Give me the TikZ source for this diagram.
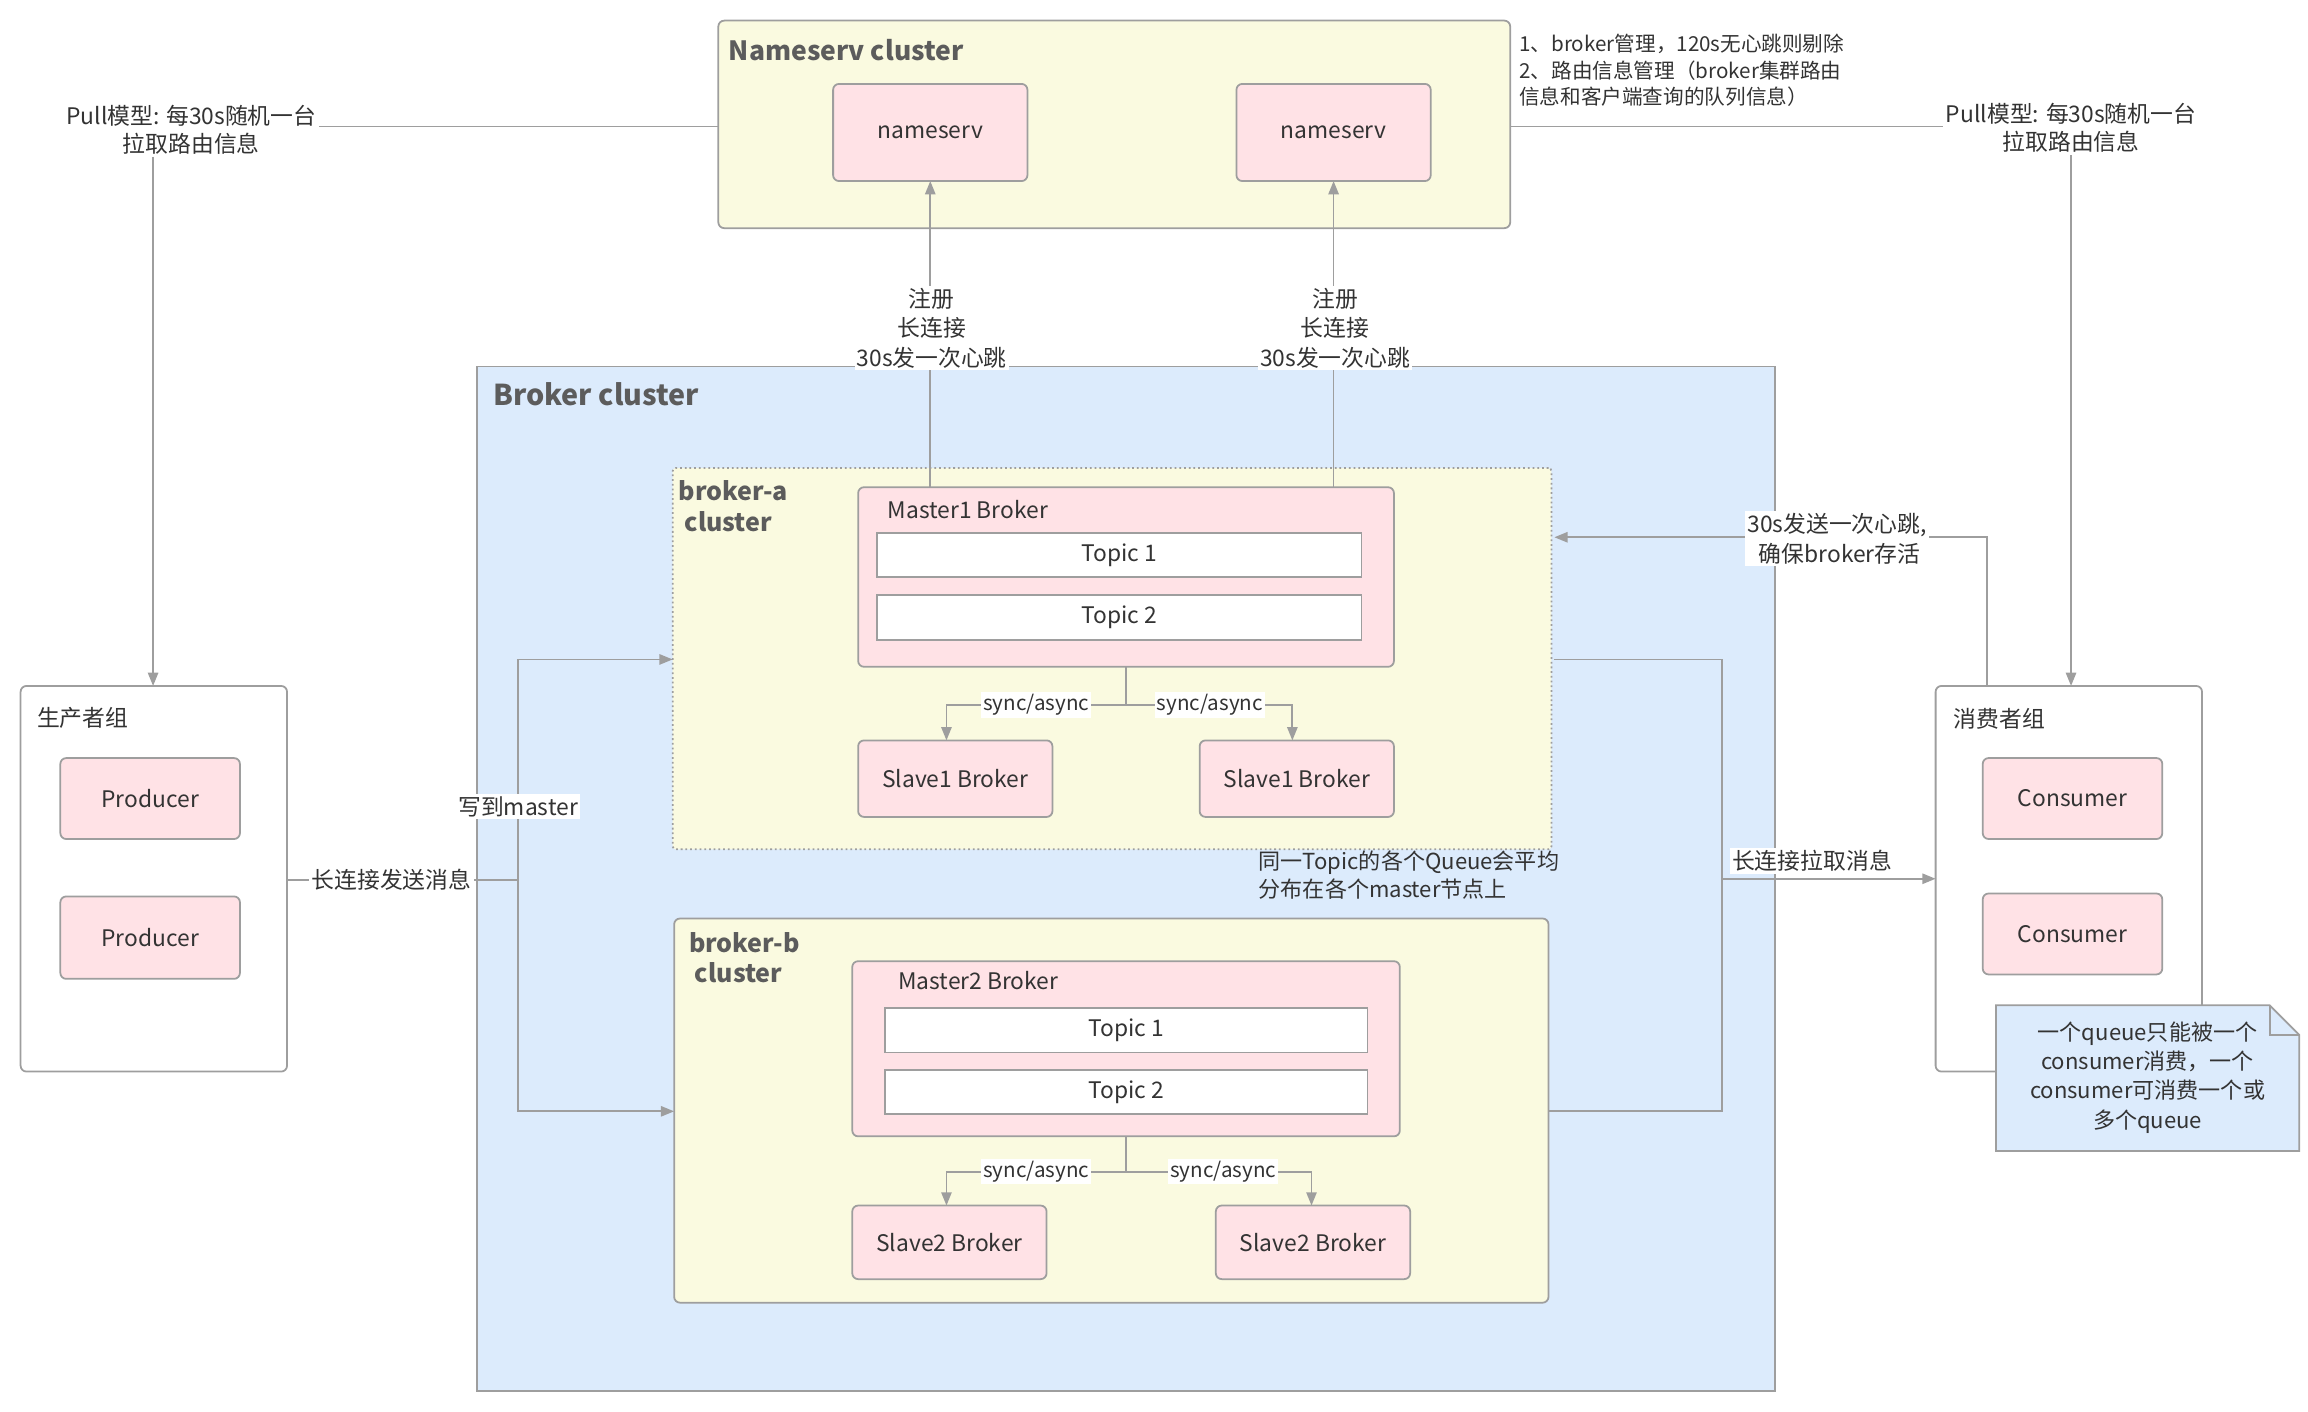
\documentclass[tikz,border=0pt]{standalone}
\usepackage{fontspec}
\setmainfont{Noto Sans CJK SC}
\usetikzlibrary{arrows.meta}
\definecolor{ln}{HTML}{9E9E9E}
\definecolor{yel}{HTML}{FAFAE0}
\definecolor{pnk}{HTML}{FFE2E6}
\definecolor{blu}{HTML}{DCEBFC}
\definecolor{txt}{HTML}{333333}
\newcommand\mybox[7]{\node[#1,minimum width={#4pt-#2pt},minimum height={#5pt-#3pt}] (#6) at ({(#2+#4)/2},{-(#3+#5)/2}) {#7};}
\begin{document}
\begin{tikzpicture}[x=1pt,y=1pt,
  every node/.style={text=txt,font=\fontsize{15.5pt}{18pt}\selectfont},
  base/.style={draw=ln,line width=1.2pt,inner sep=0pt,outer sep=0pt,rounded corners=4pt},
  clus/.style={base,fill=yel},
  pk/.style={base,fill=pnk},
  wt/.style={base,fill=white,rounded corners=0pt},
  grp/.style={base,fill=white},
  ttl/.style={anchor=west,inner sep=0pt,font=\bfseries\fontsize{19.5pt}{22pt}\selectfont,text=txt!80},
  lbl/.style={fill=white,inner sep=1.5pt,align=center},
  con/.style={draw=ln,line width=1.2pt},
  arr/.style={con,-{Triangle[width=7pt,length=9pt]}}]
\useasboundingbox (0,0) rectangle (1568,-959);
% clusters
\mybox{base,fill=blu,rounded corners=0pt}{324}{249}{1206}{945}{bc}{}
\node[ttl] (bct) at (335,-268) {Broker cluster};
\mybox{clus}{488}{14}{1026}{155}{nc}{}
\node[ttl,font=\bfseries\fontsize{18pt}{22pt}\selectfont] (nct) at (495,-34) {Nameserv cluster};
\mybox{pk}{566}{57}{698}{123}{ns1}{nameserv}
\mybox{pk}{840}{57}{972}{123}{ns2}{nameserv}
\node[anchor=north west,align=left,font=\fontsize{14pt}{18pt}\selectfont,inner sep=0pt] (note1) at (1032,-23) {1、broker管理，120s无心跳则剔除\\2、路由信息管理（broker集群路由\\信息和客户端查询的队列信息）};
% broker-a
\mybox{clus,dotted,rounded corners=2pt}{457}{318}{1054}{577}{ba}{}
\node[ttl,anchor=north west,align=left,font=\bfseries\fontsize{17pt}{21pt}\selectfont] (bat) at (461,-326) {broker-a\\\ cluster};
\mybox{pk}{583}{331}{947}{453}{m1}{}
\node[anchor=west,inner sep=0pt] (m1t) at (603,-346) {Master1 Broker};
\mybox{wt}{596}{362}{925}{392}{t11}{Topic 1}
\mybox{wt}{596}{404}{925}{435}{t12}{Topic 2}
\mybox{pk}{583}{503}{715}{555}{s11}{Slave1 Broker}
\mybox{pk}{815}{503}{947}{555}{s12}{Slave1 Broker}
% broker-b
\mybox{clus}{458}{624}{1052}{885}{bb}{}
\node[ttl,anchor=north west,align=left,font=\bfseries\fontsize{17pt}{21pt}\selectfont] (bbt) at (468,-633) {broker-b\\\ cluster};
\mybox{pk}{579}{653}{951}{772}{m2}{}
\node[anchor=west,inner sep=0pt] (m2t) at (610,-666) {Master2 Broker};
\mybox{wt}{601}{685}{929}{715}{t21}{Topic 1}
\mybox{wt}{601}{727}{929}{757}{t22}{Topic 2}
\mybox{pk}{579}{819}{711}{869}{s21}{Slave2 Broker}
\mybox{pk}{826}{819}{958}{869}{s22}{Slave2 Broker}
% groups
\mybox{grp}{14}{466}{195}{728}{pg}{}
\node[anchor=west,inner sep=0pt] (pgt) at (25,-488) {生产者组};
\mybox{pk}{41}{515}{163}{570}{p1}{Producer}
\mybox{pk}{41}{609}{163}{665}{p2}{Producer}
\mybox{grp}{1315}{466}{1496}{728}{cg}{}
\node[anchor=west,inner sep=0pt] (cgt) at (1327,-488) {消费者组};
\mybox{pk}{1347}{515}{1469}{570}{c1}{Consumer}
\mybox{pk}{1347}{607}{1469}{662}{c2}{Consumer}
% note
\path[fill=blu,draw=ln,line width=1.2pt] (1356,-683) -- (1542,-683) -- (1562,-703) -- (1562,-782) -- (1356,-782) -- cycle;
\draw[draw=ln,line width=1.2pt] (1542,-683) -- (1542,-703) -- (1562,-703);
\node[align=center,font=\fontsize{15pt}{20pt}\selectfont] (nt) at (1459,-732) {一个queue只能被一个\\consumer消费，一个\\consumer可消费一个或\\多个queue};
% sync
\coordinate (j1) at (765,-479);
\draw[con] (m1.south -| j1) -- (j1);
\draw[arr] (j1) -- (643,-479) -- (s11.north -| 643,0);
\draw[arr] (j1) -- (878,-479) -- (s12.north -| 878,0);
\node[lbl,font=\fontsize{14pt}{15pt}\selectfont] at (704,-479) {sync/async};
\node[lbl,font=\fontsize{14pt}{15pt}\selectfont] at (822,-479) {sync/async};
\coordinate (j2) at (765,-796);
\draw[con] (m2.south -| j2) -- (j2);
\draw[arr] (j2) -- (643,-796) -- (s21.north -| 643,0);
\draw[arr] (j2) -- (891,-796) -- (s22.north -| 891,0);
\node[lbl,font=\fontsize{14pt}{15pt}\selectfont] at (704,-796) {sync/async};
\node[lbl,font=\fontsize{14pt}{15pt}\selectfont] at (831,-796) {sync/async};
% register
\draw[arr] (m1.north -| ns1.south) -- (ns1.south);
\draw[arr] (m1.north -| ns2.south) -- (ns2.south);
\node[lbl,font=\fontsize{15.5pt}{20pt}\selectfont] at (633,-223) {注册\\长连接\\30s发一次心跳};
\node[lbl,font=\fontsize{15.5pt}{20pt}\selectfont] at (907,-223) {注册\\长连接\\30s发一次心跳};
% pull routing
\node[lbl,font=\fontsize{15.5pt}{19pt}\selectfont] (pl) at (130,-88) {Pull模型: 每30s随机一台\\拉取路由信息};
\node[lbl,font=\fontsize{15.5pt}{19pt}\selectfont] (pr) at (1407,-87) {Pull模型: 每30s随机一台\\拉取路由信息};
\draw[con] (nc.west |- 0,-86) -- (pl.east |- 0,-86);
\draw[con] (nc.east |- 0,-86) -- (pr.west |- 0,-86);
\draw[arr] (pl.south -| 104,0) -- (pg.north -| 104,0);
\draw[arr] (pr.south) -- (cg.north -| pr.south);
% producer send
\coordinate (pj) at (352,-598);
\draw[con] (pg.east |- pj) -- (pj);
\draw[arr] (pj) -- (352,-448) -- (ba.west |- 0,-448);
\draw[arr] (pj) -- (352,-755) -- (bb.west |- 0,-755);
\node[lbl] at (266,-598) {长连接发送消息};
\node[lbl] at (352,-548) {写到master};
% consumer pull
\coordinate (cj) at (1170,-597);
\draw[con] (1056,-448) -- (1170,-448) -- (1170,-755) -- (bb.east |- 0,-755);
\draw[arr] (cj) -- (cg.west |- cj);
\node[lbl] at (1231,-585) {长连接拉取消息};
% heartbeat
\draw[arr] (cg.north -| 1350,0) -- (1350,-365) -- (1056,-365);
\node[lbl,font=\fontsize{15.5pt}{20pt}\selectfont] at (1248,-366) {30s发送一次心跳,\\\ 确保broker存活};
% queue note
\node[anchor=north west,align=left,inner sep=0pt,font=\fontsize{15pt}{19pt}\selectfont] (qn) at (855,-578) {同一Topic的各个Queue会平均\\分布在各个master节点上};
\end{tikzpicture}
\end{document}
